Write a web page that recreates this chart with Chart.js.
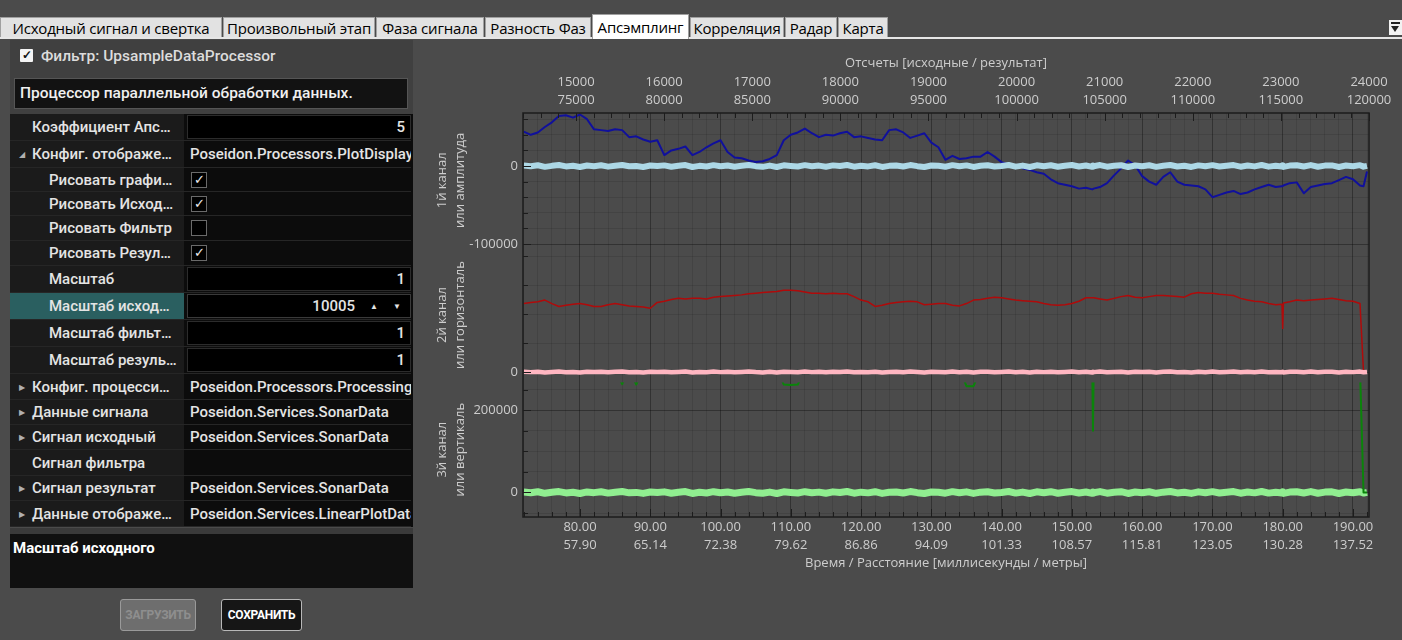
<!DOCTYPE html>
<html>
<head>
<meta charset="utf-8">
<script src="https://cdn.jsdelivr.net/npm/chart.js"></script>
<style>
  body { margin:0; width:1402px; height:640px; background:#4b4b4b; overflow:hidden; position:relative;
         font-family: Roboto, "Noto Sans", sans-serif; }
  .tab { position:absolute; top:17px; height:21px; line-height:20px; background:#e2e2e2; border:1px solid #a0a0a0;
         box-sizing:border-box; color:#000; font-family:"Open Sans", sans-serif; font-size:15px; letter-spacing:-0.2px;
         text-align:center; white-space:nowrap; overflow:hidden; }
  .tab.sel { top:14px; height:25px; line-height:24px; background:#fff; border-bottom:none; }
  #tabline { position:absolute; left:0; top:37px; width:1402px; height:2px; background:#e6e6e6; }
  #menuIcon { position:absolute; left:1389px; top:20px; width:13px; height:15px; background:#f2f2f2; }
  #menuIcon div { position:absolute; left:2px; width:9px; height:2px; background:#222; }
  #panelTop { position:absolute; left:10px; top:40px; width:403px; height:74px; background:#404040; }
  #hdrChk { position:absolute; left:20px; top:49px; width:13px; height:13px; background:#f4f4f4; border-radius:1px;
            color:#111; font-size:12px; line-height:13px; text-align:center; font-weight:bold; }
  #hdrText { position:absolute; left:41px; top:45px; color:#dcdcdc; font-size:15.5px; font-weight:500; line-height:22px; }
  #descr { position:absolute; left:14px; top:78px; width:394px; height:31px; background:#121212; border:1px solid #555;
           box-sizing:border-box; color:#f0f0f0; font-size:15.5px; line-height:29px; padding-left:5px; font-weight:500; }
  #grid { position:absolute; left:10px; top:114px; width:403px; height:413px; background:#0c0c0c; }
  .row { position:absolute; left:10px; width:401px; border-bottom:1px solid #262626; box-sizing:border-box; }
  .name { position:absolute; left:0; top:0; bottom:0; width:174px; background:#1b1b1b; color:#e4e4e4;
          font-size:15px; font-weight:500; white-space:nowrap; overflow:hidden; }
  .name.sel { background:#2a5f60; }
  .name span { position:absolute; top:50%; transform:translateY(-50%); }
  .arr { position:absolute; left:9px; top:50%; transform:translateY(-50%); color:#b0b0b0; font-size:8px; }
  .val { position:absolute; left:175px; right:0; top:0; bottom:0; color:#e4e4e4; font-size:15px; font-weight:500;
         white-space:nowrap; overflow:hidden; }
  .val.box { background:#000; border:1px solid #2c2c2c; margin:1px 0 1px 2px; }
  .val span { position:absolute; top:50%; transform:translateY(-50%); }
  .chk { position:absolute; left:6px; top:50%; margin-top:-8px; width:16px; height:16px; box-sizing:border-box;
         border:1px solid #6a6a6a; background:#000; color:#eee; font-size:13px; line-height:14px; text-align:center; }
  #sep { position:absolute; left:10px; top:528px; width:403px; height:6px; background:#3a3a3a; }
  #help { position:absolute; left:10px; top:534px; width:403px; height:54px; background:#101010; }
  #help b { position:absolute; left:3px; top:5px; color:#fff; font-size:15px; }
  .btn { position:absolute; top:599px; height:32px; box-sizing:border-box; border-radius:3px; font-size:12px;
         font-weight:bold; line-height:30px; text-align:center; letter-spacing:-0.3px; }
  #plot { position:absolute; left:420px; top:45px; }
</style>
</head>
<body>
<div class="tab" style="left:0;width:222px">Исходный сигнал и свертка</div>
<div class="tab" style="left:223px;width:152px">Произвольный этап</div>
<div class="tab" style="left:376px;width:108px">Фаза сигнала</div>
<div class="tab" style="left:485px;width:106px">Разность Фаз</div>
<div class="tab" style="left:690px;width:94px">Корреляция</div>
<div class="tab" style="left:785px;width:52px">Радар</div>
<div class="tab" style="left:838px;width:50px">Карта</div>
<div id="tabline"></div>
<div class="tab sel" style="left:592px;width:97px">Апсэмплинг</div>
<div id="menuIcon"><div style="top:2px"></div><div style="top:6px;height:0;width:0;left:2px;background:none;border-left:4.5px solid transparent;border-right:4.5px solid transparent;border-top:6px solid #222"></div></div>

<div id="panelTop"></div>
<div id="hdrChk">✓</div>
<div id="hdrText">Фильтр: UpsampleDataProcessor</div>
<div id="descr">Процессор параллельной обработки данных.</div>
<div id="grid"></div>
<div id="rows"></div>
<div id="sep"></div>
<div id="help"><b>Масштаб исходного</b></div>
<div class="btn" style="left:120px;width:76px;background:#6e6e6e;border:1px solid #9a9a9a;color:#8e8e8e">ЗАГРУЗИТЬ</div>
<div class="btn" style="left:221px;width:81px;background:#161616;border:1px solid #b8b8b8;color:#fff">СОХРАНИТЬ</div>

<canvas id="plot" width="982" height="540"></canvas>

<script>
// ---- данные графика ----
const timeMs = [
  72, 73, 74, 75, 76, 77, 78, 79, 80, 81,
  82, 83, 84, 85, 86, 87, 88, 89, 90, 91,
  92, 93, 94, 95, 96, 97, 98, 99, 100, 101,
  102, 103, 104, 105, 106, 107, 108, 109, 110, 111,
  112, 113, 114, 115, 116, 117, 118, 119, 120, 121,
  122, 123, 124, 125, 126, 127, 128, 129, 130, 131,
  132, 133, 134, 135, 136, 137, 138, 139, 140, 141,
  142, 143, 144, 145, 146, 147, 148, 149, 150, 151,
  152, 152.9, 153, 153.1, 154, 155, 156, 157, 158, 159, 160, 161,
  162, 163, 164, 165, 166, 167, 168, 169, 170, 171,
  172, 173, 174, 175, 176, 177, 178, 179, 179.9, 180, 180.1, 181,
  182, 183, 184, 185, 186, 187, 188, 189, 190, 191, 191.5, 192
];

// 1й канал: исходный (синий) и результат (голубой)
const ch1Source = [
  44000, 40000, 43000, 50000, 56000, 64000, 65000, 62000, 66000, 60000,
  47000, 46000, 45000, 47000, 46000, 37000, 38000, 34000, 31000, 33000,
  14000, 20000, 22000, 25000, 14000, 18000, 24000, 29000, 33000, 18000,
  11000, 10000, 7000, 5000, 6000, 9000, 14000, 33000, 40000, 43000,
  48000, 42000, 37000, 40000, 39000, 42000, 44000, 37000, 38000, 36000,
  34000, 33000, 46000, 47000, 43000, 36000, 39000, 42000, 30000, 24000,
  8000, 13000, 9000, 10000, 12000, 12000, 18000, 12000, 5000, 2000,
  0, -3000, -5000, -8000, -10000, -17000, -22000, -24000, -26000, -29000,
  -28000, -30000, -30000, -29000, -27000, -22000, -12000, -3000, 7000, 1000, -13000, -20000,
  -24000, -14000, -8000, -20000, -24000, -25000, -26000, -30000, -40000, -37000,
  -34000, -32000, -36000, -34000, -30000, -27000, -24000, -27000, -26000, -26000, -25000, -22000,
  -21000, -35000, -27000, -25000, -23000, -22000, -18000, -14000, -17000, -25000, -26000, -7000
];
const ch1Result = [
  600, -300, 900, -1100, 200, 1200, -500, 300, -1300, 700,
  -200, 1000, -800, 400, 1300, -400, 100, -1200, 600, -100,
  800, -900, 300, 1200, -1300, 200, -600, 1100, -300, 700,
  -1000, 300, 1300, -200, -1100, 500, -1300, 900, 100, -600,
  1100, -300, 500, -1000, 800, -100, 1300, -900, 400, -500,
  1000, -1200, 200, 700, -700, 1200, -200, -1300, 600, 300,
  -900, 1100, -400, 800, -1200, 400, 900, -700, 100, 1300,
  -800, 500, -1300, 900, -300, 1000, -1000, 300, 1200, -600,
  700, -1100, 500, -300, 1200, -900, 200, 1000, -1300, 600, -200, 900,
  -1100, 400, 1300, -600, 300, -1200, 800, -400, 1100, -700,
  300, 1200, -900, 700, -500, 1300, -800, 200, -600, 900, -1200, 500,
  1000, -700, 1200, -1000, 500, 800, -1300, 600, -300, 1100, -800, 200
];

// 2й канал: исходный (красный) и результат (розовый)
const ch2Source = [
  118000, 120000, 121000, 124000, 118000, 113000, 115000, 117000, 118000, 116000,
  113000, 113000, 116000, 118000, 116000, 114000, 113000, 112000, 110000, 120000,
  122000, 125000, 127000, 126000, 127000, 127000, 126000, 129000, 130000, 131000,
  132000, 133000, 135000, 136000, 137000, 138000, 139000, 141000, 141000, 140000,
  138000, 136000, 136000, 135000, 136000, 135000, 135000, 130000, 124000, 121000,
  113000, 115000, 118000, 120000, 121000, 122000, 121000, 116000, 117000, 118000,
  118000, 115000, 114000, 118000, 124000, 125000, 127000, 129000, 128000, 126000,
  124000, 123000, 122000, 121000, 118000, 116000, 115000, 116000, 118000, 122000,
  128000, 128000, 128000, 128000, 126000, 124000, 127000, 130000, 132000, 129000, 128000, 130000,
  132000, 132000, 131000, 130000, 129000, 135000, 137000, 136000, 136000, 134000,
  133000, 132000, 127000, 124000, 122000, 121000, 118000, 116000, 117000, 75000, 119000, 121000,
  124000, 123000, 124000, 125000, 126000, 127000, 125000, 123000, 122000, 118000, 0, 0
];
const ch2Result = [
  400, -200, 600, -700, 100, 700, -300, 200, -800, 500,
  -100, 600, -500, 300, 800, -300, 100, -700, 400, -100,
  500, -600, 200, 700, -800, 100, -400, 700, -200, 400,
  -600, 200, 800, -100, -700, 300, -800, 600, 100, -400,
  700, -200, 300, -600, 500, -100, 800, -600, 200, -300,
  600, -700, 100, 400, -400, 700, -100, -800, 400, 200,
  -600, 700, -300, 500, -700, 300, 600, -400, 100, 800,
  -500, 300, -800, 600, -200, 600, -600, 200, 700, -400,
  400, -700, 300, -200, 700, -600, 100, 600, -800, 400, -100, 600,
  -700, 300, 800, -400, 200, -700, 500, -300, 700, -400,
  200, 700, -600, 400, -300, 800, -500, 100, -400, 600, -700, 300,
  600, -400, 700, -600, 300, 500, -800, 400, -200, 700, -500, 100
];

// 3й канал: исходный (зеленый, почти весь выше окна) и результат (светло-зеленый)
const ch3Source = [
  300000, 300000, 300000, 300000, 300000, 300000, 300000, 300000, 300000, 300000,
  300000, 300000, 300000, 300000, 263000, 300000, 262000, 300000, 300000, 300000,
  300000, 300000, 300000, 300000, 300000, 300000, 300000, 300000, 300000, 300000,
  300000, 300000, 300000, 300000, 300000, 300000, 300000, 262000, 261000, 262000,
  300000, 300000, 300000, 300000, 300000, 300000, 300000, 300000, 300000, 300000,
  300000, 300000, 300000, 300000, 300000, 300000, 300000, 300000, 300000, 300000,
  300000, 300000, 300000, 258000, 258000, 300000, 300000, 300000, 300000, 300000,
  300000, 300000, 300000, 300000, 300000, 300000, 300000, 300000, 300000, 300000,
  300000, 300000, 150000, 300000, 300000, 300000, 300000, 300000, 300000, 300000, 300000, 300000,
  300000, 300000, 300000, 300000, 300000, 300000, 300000, 300000, 300000, 300000,
  300000, 300000, 300000, 300000, 300000, 300000, 300000, 300000, 300000, 300000, 300000, 300000,
  300000, 300000, 300000, 300000, 300000, 300000, 300000, 300000, 300000, 300000, 0, 0
];
const ch3Result = [
  1200, -600, 1800, -2000, 400, 2200, -1000, 600, -2400, 1400,
  -400, 1900, -1500, 800, 2400, -800, 200, -2200, 1100, -200,
  1500, -1700, 600, 2200, -2400, 400, -1100, 2000, -600, 1300,
  -1900, 600, 2400, -400, -2000, 900, -2400, 1700, 200, -1100,
  2000, -600, 900, -1900, 1500, -200, 2400, -1700, 800, -900,
  1900, -2200, 400, 1300, -1300, 2200, -400, -2400, 1100, 600,
  -1700, 2000, -800, 1500, -2200, 800, 1700, -1300, 200, 2400,
  -1500, 900, -2400, 1700, -600, 1900, -1900, 600, 2200, -1100,
  1300, -2000, 900, -600, 2200, -1700, 400, 1900, -2400, 1100, -400, 1700,
  -2000, 800, 2400, -1100, 600, -2200, 1500, -800, 2000, -1300,
  600, 2200, -1700, 1300, -900, 2400, -1500, 400, -1100, 1700, -2200, 900,
  1900, -1300, 2200, -1900, 900, 1500, -2400, 1100, -600, 2000, -1500, 400
];

// подписи осей
const bottomTickMs = [80, 90, 100, 110, 120, 130, 140, 150, 160, 170, 180, 190];
const bottomTickMsText = ['80.00', '90.00', '100.00', '110.00', '120.00', '130.00', '140.00', '150.00', '160.00', '170.00', '180.00', '190.00'];
const bottomTickMeters = ['57.90', '65.14', '72.38', '79.62', '86.86', '94.09', '101.33', '108.57', '115.81', '123.05', '130.28', '137.52'];
const topTickSrc = [15000, 16000, 17000, 18000, 19000, 20000, 21000, 22000, 23000, 24000];
const topTickRes = ['75000', '80000', '85000', '90000', '95000', '100000', '105000', '110000', '115000', '120000'];
const ch1Labels = [0, -100000];
const ch2Labels = [0];
const ch3Labels = [0, 200000];

// ---- таблица свойств слева ----
const propRows = [
  { name: 'Коэффициент Апс…', lvl: 0, kind: 'num', val: '5', top: 114, h: 27 },
  { name: 'Конфиг. отображе…', lvl: 0, arrow: '◢', val: 'Poseidon.Processors.PlotDisplayConfig', top: 141, h: 27 },
  { name: 'Рисовать графи…', lvl: 1, kind: 'check', on: true, top: 168, h: 24 },
  { name: 'Рисовать Исход…', lvl: 1, kind: 'check', on: true, top: 192, h: 24 },
  { name: 'Рисовать Фильтр', lvl: 1, kind: 'check', on: false, top: 216, h: 25 },
  { name: 'Рисовать Резул…', lvl: 1, kind: 'check', on: true, top: 241, h: 25 },
  { name: 'Масштаб', lvl: 1, kind: 'num', val: '1', top: 266, h: 27 },
  { name: 'Масштаб исход…', lvl: 1, kind: 'spin', val: '10005', sel: true, top: 293, h: 27 },
  { name: 'Масштаб фильт…', lvl: 1, kind: 'num', val: '1', top: 320, h: 27 },
  { name: 'Масштаб резуль…', lvl: 1, kind: 'num', val: '1', top: 347, h: 27 },
  { name: 'Конфиг. процесси…', lvl: 0, arrow: '▶', val: 'Poseidon.Processors.ProcessingConfig', top: 374, h: 26 },
  { name: 'Данные сигнала', lvl: 0, arrow: '▶', val: 'Poseidon.Services.SonarData', top: 400, h: 25 },
  { name: 'Сигнал исходный', lvl: 0, arrow: '▶', val: 'Poseidon.Services.SonarData', top: 425, h: 25 },
  { name: 'Сигнал фильтра', lvl: 0, val: '', top: 450, h: 26 },
  { name: 'Сигнал результат', lvl: 0, arrow: '▶', val: 'Poseidon.Services.SonarData', top: 476, h: 25 },
  { name: 'Данные отображе…', lvl: 0, arrow: '▶', val: 'Poseidon.Services.LinearPlotData', top: 501, h: 26 }
];
let html = '';
propRows.forEach(r => {
  const indent = r.lvl ? 39 : 22;
  let v = '';
  if (r.kind === 'num') v = '<div class="val box"><span style="right:5px">' + r.val + '</span></div>';
  else if (r.kind === 'spin') v = '<div class="val box" style="border-color:#3a3a3a"><span style="right:55px">' + r.val +
    '</span><span style="right:32px;font-size:8px">▲</span><span style="right:9px;font-size:8px">▼</span></div>';
  else if (r.kind === 'check') v = '<div class="val"><div class="chk">' + (r.on ? '✓' : '') + '</div></div>';
  else v = '<div class="val"><span style="left:5px">' + r.val + '</span></div>';
  html += '<div class="row" style="top:' + r.top + 'px;height:' + r.h + 'px">' +
    '<div class="name' + (r.sel ? ' sel' : '') + '">' +
    (r.arrow ? '<div class="arr">' + r.arrow + '</div>' : '') +
    '<span style="left:' + indent + 'px">' + r.name + '</span></div>' + v + '</div>';
});
document.getElementById('rows').innerHTML = html;

// ---- график ----
const FONT = "'Open Sans', 'Noto Sans', sans-serif";
const TXT = '#cdcdcd';
const MAJOR = 'rgba(0,0,0,0.32)';
const MINOR = 'rgba(0,0,0,0.10)';

function series(values) {
  return timeMs.map((t, i) => ({ x: t, y: values[i] }));
}

// позиции засечек (шаг сетки)
function steps(from, to, step) {
  const out = [];
  for (let v = from; v <= to; v += step) out.push({ value: v });
  return out;
}

function yAxis(min, max, tickFrom, tickTo, step, labels, title) {
  return {
    type: 'linear', position: 'left', stack: 'channels', stackWeight: 1,
    min: min, max: max,
    afterBuildTicks: s => { s.ticks = steps(tickFrom, tickTo, step); },
    ticks: {
      autoSkip: false, padding: 5,
      color: TXT, font: { family: FONT, size: 13 },
      callback: v => labels.includes(v) ? String(v) : ''
    },
    grid: { drawTicks: false, color: c => labels.includes(c.tick.value) ? MAJOR : MINOR },
    border: { display: false },
    title: { display: true, text: title, color: TXT, font: { family: FONT, size: 13, lineHeight: 1.38 }, padding: { top: 13, bottom: 0 } },
    afterFit: s => { s.width = 103; }
  };
}

// каждая линия обрезается по своей полосе (каналу)
const clipToPanel = {
  id: 'clipToPanel',
  beforeDatasetDraw(chart, args) {
    const ys = args.meta.yScale, a = chart.chartArea, ctx = chart.ctx;
    ctx.save();
    ctx.beginPath();
    ctx.rect(a.left, ys.top, a.right - a.left, ys.bottom - ys.top);
    ctx.clip();
  },
  afterDatasetDraw(chart) { chart.ctx.restore(); }
};

// внутренние засечки и рамка области построения
const frameTicks = {
  id: 'frameTicks',
  afterDatasetsDraw(chart) {
    const { ctx, chartArea: a, scales } = chart;
    ctx.save();
    ctx.strokeStyle = '#1c1c1c';
    ctx.lineWidth = 1;
    ctx.beginPath();
    ['y1', 'y2', 'y3'].forEach(id => {
      const s = scales[id];
      s.ticks.forEach(t => {
        const p = Math.round(s.getPixelForValue(t.value)) + 0.5;
        ctx.moveTo(a.left, p); ctx.lineTo(a.left + (t.label ? 8 : 5), p);
      });
    });
    scales.x.ticks.forEach(t => {
      const p = Math.round(scales.x.getPixelForValue(t.value)) + 0.5;
      ctx.moveTo(p, a.bottom); ctx.lineTo(p, a.bottom - (t.label ? 8 : 5));
    });
    scales.xTop.ticks.forEach(t => {
      const p = Math.round(scales.xTop.getPixelForValue(t.value)) + 0.5;
      ctx.moveTo(p, a.top); ctx.lineTo(p, a.top + (t.label ? 8 : 5));
    });
    ctx.stroke();
    ctx.lineWidth = 1.5;
    ctx.strokeRect(a.left, a.top, a.right - a.left, a.bottom - a.top);
    ctx.restore();
  }
};

const line = (data, yAxisID, color, width) => ({
  data: series(data), yAxisID: yAxisID, xAxisID: 'x',
  borderColor: color, borderWidth: width, pointRadius: 0, tension: 0, fill: false, borderJoinStyle: 'round'
});

new Chart(document.getElementById('plot'), {
  type: 'line',
  data: {
    datasets: [
      line(ch1Result, 'y1', '#add8e6', 6),
      line(ch2Result, 'y2', '#ffb6c1', 4.5),
      line(ch3Source, 'y3', '#0a840a', 2),
      line(ch3Result, 'y3', '#90ee90', 7),
      line(ch1Source, 'y1', '#10109c', 2),
      line(ch2Source, 'y2', '#b00a0a', 1.5)
    ]
  },
  options: {
    responsive: false,
    devicePixelRatio: 1,
    animation: false,
    events: [],
    layout: { padding: { left: 0, top: 0, right: 33, bottom: 13 } },
    plugins: { legend: { display: false }, tooltip: { enabled: false } },
    scales: {
      x: {
        type: 'linear', position: 'bottom', min: 71.89, max: 192.28,
        afterBuildTicks: s => { s.ticks = steps(72, 192, 2); },
        ticks: {
          autoSkip: false, minRotation: 0, maxRotation: 0, padding: 1,
          color: TXT, font: { family: FONT, size: 13, lineHeight: 1.38 },
          callback: v => { const i = bottomTickMs.indexOf(v); return i < 0 ? '' : [bottomTickMsText[i], bottomTickMeters[i]]; }
        },
        grid: { drawTicks: false, color: c => bottomTickMs.includes(c.tick.value) ? MAJOR : MINOR },
        border: { display: false },
        title: { display: true, text: 'Время / Расстояние [миллисекунды / метры]', color: TXT,
                 font: { family: FONT, size: 13, lineHeight: 1.38 }, padding: { top: 0, bottom: 0 } },
        afterFit: s => { s.height = 55; }
      },
      xTop: {
        type: 'linear', position: 'top', min: 14398, max: 24000,
        afterBuildTicks: s => { s.ticks = steps(14400, 24000, 200); },
        ticks: {
          autoSkip: false, minRotation: 0, maxRotation: 0, padding: 4,
          color: TXT, font: { family: FONT, size: 13, lineHeight: 1.38 },
          callback: v => { const i = topTickSrc.indexOf(v); return i < 0 ? '' : [String(topTickSrc[i]), topTickRes[i]]; }
        },
        grid: { display: false, drawTicks: false },
        border: { display: false },
        title: { display: true, text: 'Отсчеты [исходные / результат]', color: TXT,
                 font: { family: FONT, size: 13, lineHeight: 1.38 }, padding: { top: 9, bottom: 0 } },
        afterFit: s => { s.height = 68; }
      },
      // порядок: нижний канал объявлен первым, верхний — последним
      y3: yAxis(-59500, 267400, -50000, 250000, 50000, ch3Labels, ['3й канал', 'или вертикаль']),
      y2: yAxis(-17800, 214400, 0, 200000, 50000, ch2Labels, ['2й канал', 'или горизонталь']),
      y1: yAxis(-104700, 67950, -100000, 60000, 20000, ch1Labels, ['1й канал', 'или амплитуда'])
    }
  },
  plugins: [clipToPanel, frameTicks]
});
</script>
</body>
</html>
